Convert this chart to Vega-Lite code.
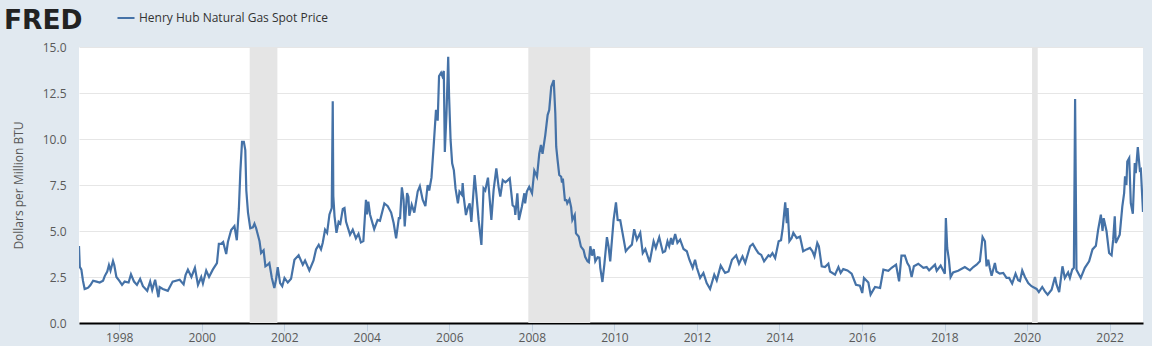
{
"$schema":"https://vega.github.io/schema/vega-lite/v6.json",
"width":1064,"height":276,
"autosize":{"type":"none"},
"padding":{"left":79,"top":47,"right":9,"bottom":23},
"background":"#e1e9f0",
"view":{"fill":"#ffffff","stroke":null},
"title":{"text":"FRED","anchor":"start","frame":"group","dx":-75,"dy":38,"offset":12,"font":"DejaVu Sans","fontWeight":"bold","fontSize":26.5,"color":"#222222"},
"datasets":{
"recessions":[{"start":"2001-03-01","end":"2001-11-01"},{"start":"2007-12-01","end":"2009-06-01"},{"start":"2020-02-15","end":"2020-04-05"}],
"spot":[
{"date":"1997-01-10","value":4.18},{"date":"1997-01-17","value":3.05},{"date":"1997-01-31","value":2.9},{"date":"1997-02-14","value":2.3},{"date":"1997-03-01","value":1.85},{"date":"1997-03-15","value":1.88},{"date":"1997-04-01","value":1.92},{"date":"1997-04-20","value":2.05},{"date":"1997-05-15","value":2.3},{"date":"1997-06-14","value":2.25},{"date":"1997-07-12","value":2.2},{"date":"1997-08-11","value":2.3},{"date":"1997-08-26","value":2.55},{"date":"1997-09-17","value":2.8},{"date":"1997-10-02","value":3.15},{"date":"1997-10-16","value":2.85},{"date":"1997-11-07","value":3.37},{"date":"1997-11-18","value":3.15},{"date":"1997-12-07","value":2.5},{"date":"1998-01-01","value":2.3},{"date":"1998-01-26","value":2.07},{"date":"1998-02-18","value":2.25},{"date":"1998-03-25","value":2.2},{"date":"1998-04-15","value":2.65},{"date":"1998-05-12","value":2.25},{"date":"1998-06-07","value":2.07},{"date":"1998-07-05","value":2.4},{"date":"1998-07-30","value":2.0},{"date":"1998-09-06","value":1.75},{"date":"1998-10-02","value":2.25},{"date":"1998-10-20","value":1.8},{"date":"1998-11-15","value":2.35},{"date":"1998-12-14","value":1.4},{"date":"1998-12-25","value":1.95},{"date":"1999-01-22","value":1.85},{"date":"1999-03-07","value":1.75},{"date":"1999-04-19","value":2.25},{"date":"1999-06-20","value":2.35},{"date":"1999-07-25","value":2.1},{"date":"1999-08-11","value":2.6},{"date":"1999-09-01","value":2.9},{"date":"1999-10-02","value":2.5},{"date":"1999-11-02","value":3.0},{"date":"1999-11-29","value":2.07},{"date":"1999-12-28","value":2.5},{"date":"2000-01-12","value":2.15},{"date":"2000-02-10","value":2.85},{"date":"2000-03-06","value":2.5},{"date":"2000-04-08","value":2.9},{"date":"2000-05-15","value":3.25},{"date":"2000-06-01","value":4.3},{"date":"2000-06-21","value":4.3},{"date":"2000-07-09","value":4.4},{"date":"2000-08-05","value":3.75},{"date":"2000-08-20","value":4.4},{"date":"2000-09-18","value":5.05},{"date":"2000-10-17","value":5.27},{"date":"2000-11-07","value":4.5},{"date":"2000-11-25","value":6.2},{"date":"2000-12-08","value":8.2},{"date":"2000-12-23","value":9.85},{"date":"2001-01-08","value":9.85},{"date":"2001-01-21","value":9.4},{"date":"2001-01-30","value":7.2},{"date":"2001-02-14","value":6.0},{"date":"2001-03-06","value":5.15},{"date":"2001-03-29","value":5.2},{"date":"2001-04-12","value":5.4},{"date":"2001-04-27","value":5.15},{"date":"2001-05-27","value":4.44},{"date":"2001-06-10","value":3.8},{"date":"2001-07-02","value":3.95},{"date":"2001-07-18","value":3.08},{"date":"2001-08-08","value":3.17},{"date":"2001-08-22","value":3.26},{"date":"2001-09-13","value":2.45},{"date":"2001-10-05","value":1.9},{"date":"2001-10-20","value":2.35},{"date":"2001-11-04","value":3.04},{"date":"2001-11-25","value":2.17},{"date":"2001-12-14","value":2.0},{"date":"2002-01-03","value":2.45},{"date":"2002-02-01","value":2.2},{"date":"2002-03-02","value":2.4},{"date":"2002-04-01","value":3.44},{"date":"2002-05-08","value":3.68},{"date":"2002-06-14","value":3.17},{"date":"2002-07-04","value":3.4},{"date":"2002-08-11","value":2.86},{"date":"2002-09-17","value":3.4},{"date":"2002-10-09","value":4.0},{"date":"2002-11-02","value":4.25},{"date":"2002-11-22","value":4.0},{"date":"2002-12-07","value":4.35},{"date":"2002-12-28","value":5.07},{"date":"2003-01-15","value":4.9},{"date":"2003-02-05","value":5.9},{"date":"2003-02-25","value":6.25},{"date":"2003-03-06","value":12.05},{"date":"2003-03-11","value":6.9},{"date":"2003-03-22","value":5.8},{"date":"2003-04-08","value":4.9},{"date":"2003-04-27","value":5.5},{"date":"2003-05-12","value":5.4},{"date":"2003-06-03","value":6.2},{"date":"2003-06-18","value":6.25},{"date":"2003-07-02","value":5.5},{"date":"2003-08-06","value":4.8},{"date":"2003-08-30","value":5.07},{"date":"2003-09-27","value":4.6},{"date":"2003-10-20","value":4.85},{"date":"2003-11-10","value":4.38},{"date":"2003-12-02","value":4.45},{"date":"2003-12-25","value":6.7},{"date":"2004-01-03","value":5.9},{"date":"2004-01-15","value":6.6},{"date":"2004-01-30","value":5.9},{"date":"2004-03-07","value":5.1},{"date":"2004-04-06","value":5.6},{"date":"2004-04-27","value":5.55},{"date":"2004-06-05","value":6.5},{"date":"2004-07-05","value":6.35},{"date":"2004-08-04","value":6.0},{"date":"2004-08-26","value":5.43},{"date":"2004-09-17","value":4.6},{"date":"2004-10-11","value":5.7},{"date":"2004-10-22","value":5.7},{"date":"2004-11-07","value":7.37},{"date":"2004-11-22","value":6.7},{"date":"2004-12-02","value":5.25},{"date":"2004-12-23","value":7.06},{"date":"2005-01-04","value":6.85},{"date":"2005-01-12","value":5.83},{"date":"2005-02-02","value":6.43},{"date":"2005-02-25","value":6.0},{"date":"2005-03-27","value":7.15},{"date":"2005-04-15","value":7.43},{"date":"2005-05-10","value":6.7},{"date":"2005-06-03","value":6.35},{"date":"2005-06-23","value":7.5},{"date":"2005-07-07","value":7.2},{"date":"2005-07-27","value":7.9},{"date":"2005-08-15","value":9.6},{"date":"2005-09-05","value":11.58},{"date":"2005-09-20","value":11.0},{"date":"2005-10-02","value":13.42},{"date":"2005-10-20","value":13.6},{"date":"2005-10-31","value":13.42},{"date":"2005-11-13","value":13.7},{"date":"2005-11-22","value":9.3},{"date":"2005-12-07","value":11.4},{"date":"2005-12-22","value":14.47},{"date":"2005-12-30","value":12.3},{"date":"2006-01-12","value":9.95},{"date":"2006-01-26","value":8.68},{"date":"2006-02-10","value":8.3},{"date":"2006-02-25","value":7.3},{"date":"2006-03-18","value":6.5},{"date":"2006-04-01","value":7.14},{"date":"2006-04-23","value":6.96},{"date":"2006-04-29","value":7.6},{"date":"2006-05-08","value":6.87},{"date":"2006-05-28","value":5.87},{"date":"2006-06-12","value":6.23},{"date":"2006-06-30","value":6.5},{"date":"2006-07-15","value":5.5},{"date":"2006-08-13","value":8.04},{"date":"2006-08-28","value":7.05},{"date":"2006-09-17","value":5.6},{"date":"2006-10-12","value":4.24},{"date":"2006-10-31","value":7.32},{"date":"2006-11-15","value":7.2},{"date":"2006-12-09","value":7.9},{"date":"2007-01-08","value":5.6},{"date":"2007-01-28","value":7.23},{"date":"2007-02-21","value":8.4},{"date":"2007-03-13","value":7.4},{"date":"2007-03-28","value":6.87},{"date":"2007-04-19","value":7.77},{"date":"2007-05-12","value":7.65},{"date":"2007-06-02","value":7.75},{"date":"2007-06-20","value":7.86},{"date":"2007-07-15","value":6.4},{"date":"2007-08-02","value":6.3},{"date":"2007-08-08","value":5.87},{"date":"2007-08-26","value":7.05},{"date":"2007-09-09","value":5.6},{"date":"2007-10-05","value":6.32},{"date":"2007-10-27","value":7.05},{"date":"2007-11-03","value":6.5},{"date":"2007-11-18","value":7.14},{"date":"2007-12-09","value":7.4},{"date":"2008-01-03","value":7.05},{"date":"2008-01-23","value":8.28},{"date":"2008-02-16","value":7.95},{"date":"2008-03-07","value":9.2},{"date":"2008-03-22","value":9.67},{"date":"2008-04-05","value":9.2},{"date":"2008-04-29","value":10.2},{"date":"2008-05-20","value":11.3},{"date":"2008-06-03","value":11.57},{"date":"2008-06-21","value":12.84},{"date":"2008-07-13","value":13.2},{"date":"2008-07-27","value":11.4},{"date":"2008-08-04","value":9.58},{"date":"2008-08-16","value":8.86},{"date":"2008-08-31","value":8.04},{"date":"2008-09-17","value":7.95},{"date":"2008-09-24","value":7.63},{"date":"2008-10-02","value":7.85},{"date":"2008-10-20","value":6.68},{"date":"2008-11-02","value":6.68},{"date":"2008-11-10","value":6.5},{"date":"2008-11-29","value":6.72},{"date":"2008-12-14","value":6.3},{"date":"2008-12-25","value":5.6},{"date":"2009-01-15","value":5.87},{"date":"2009-01-26","value":4.87},{"date":"2009-02-19","value":4.7},{"date":"2009-03-11","value":4.15},{"date":"2009-04-03","value":3.97},{"date":"2009-04-17","value":3.6},{"date":"2009-05-08","value":3.35},{"date":"2009-05-20","value":3.3},{"date":"2009-06-02","value":4.17},{"date":"2009-06-17","value":3.66},{"date":"2009-07-02","value":4.02},{"date":"2009-07-16","value":3.35},{"date":"2009-08-06","value":3.57},{"date":"2009-08-22","value":3.55},{"date":"2009-08-29","value":3.0},{"date":"2009-09-17","value":2.23},{"date":"2009-10-04","value":3.17},{"date":"2009-10-27","value":4.67},{"date":"2009-11-10","value":4.17},{"date":"2009-11-25","value":3.35},{"date":"2009-12-25","value":5.6},{"date":"2010-01-15","value":6.56},{"date":"2010-01-30","value":5.6},{"date":"2010-02-22","value":5.58},{"date":"2010-03-14","value":4.9},{"date":"2010-04-12","value":3.9},{"date":"2010-05-06","value":4.08},{"date":"2010-06-05","value":4.26},{"date":"2010-06-25","value":5.1},{"date":"2010-07-19","value":4.53},{"date":"2010-08-18","value":4.9},{"date":"2010-09-09","value":3.8},{"date":"2010-10-02","value":4.02},{"date":"2010-11-09","value":3.3},{"date":"2010-12-14","value":4.44},{"date":"2011-01-03","value":4.08},{"date":"2011-02-02","value":4.66},{"date":"2011-03-06","value":3.84},{"date":"2011-03-26","value":3.9},{"date":"2011-04-16","value":4.44},{"date":"2011-05-01","value":4.17},{"date":"2011-05-18","value":4.62},{"date":"2011-05-30","value":4.26},{"date":"2011-06-23","value":4.84},{"date":"2011-07-13","value":4.35},{"date":"2011-08-06","value":4.53},{"date":"2011-09-05","value":4.02},{"date":"2011-10-04","value":3.9},{"date":"2011-10-27","value":3.44},{"date":"2011-11-25","value":3.0},{"date":"2011-12-16","value":3.44},{"date":"2012-01-01","value":3.0},{"date":"2012-01-30","value":2.45},{"date":"2012-02-28","value":2.72},{"date":"2012-03-28","value":2.17},{"date":"2012-04-27","value":1.85},{"date":"2012-06-03","value":2.63},{"date":"2012-06-25","value":2.32},{"date":"2012-07-30","value":3.12},{"date":"2012-09-07","value":2.72},{"date":"2012-10-07","value":2.8},{"date":"2012-11-07","value":3.44},{"date":"2012-12-14","value":3.68},{"date":"2013-01-08","value":3.22},{"date":"2013-02-08","value":3.62},{"date":"2013-03-04","value":3.26},{"date":"2013-04-16","value":4.17},{"date":"2013-05-10","value":4.3},{"date":"2013-06-07","value":4.0},{"date":"2013-06-29","value":3.8},{"date":"2013-07-24","value":3.7},{"date":"2013-08-18","value":3.35},{"date":"2013-09-26","value":3.68},{"date":"2013-10-11","value":3.62},{"date":"2013-10-31","value":3.8},{"date":"2013-11-24","value":3.53},{"date":"2013-12-25","value":4.44},{"date":"2014-01-15","value":4.5},{"date":"2014-01-30","value":5.16},{"date":"2014-02-21","value":6.56},{"date":"2014-03-07","value":5.43},{"date":"2014-03-14","value":6.25},{"date":"2014-03-30","value":4.44},{"date":"2014-04-19","value":4.62},{"date":"2014-05-04","value":4.9},{"date":"2014-06-03","value":4.62},{"date":"2014-07-02","value":4.7},{"date":"2014-07-30","value":3.9},{"date":"2014-08-29","value":4.0},{"date":"2014-09-28","value":4.08},{"date":"2014-10-20","value":3.9},{"date":"2014-11-07","value":3.62},{"date":"2014-12-02","value":4.35},{"date":"2014-12-16","value":4.17},{"date":"2015-01-10","value":3.08},{"date":"2015-02-08","value":3.04},{"date":"2015-03-10","value":3.22},{"date":"2015-03-25","value":2.8},{"date":"2015-05-08","value":2.63},{"date":"2015-06-07","value":3.04},{"date":"2015-06-27","value":2.72},{"date":"2015-07-20","value":2.93},{"date":"2015-08-26","value":2.86},{"date":"2015-10-02","value":2.68},{"date":"2015-11-09","value":2.08},{"date":"2015-12-14","value":2.03},{"date":"2016-01-04","value":1.63},{"date":"2016-01-19","value":2.45},{"date":"2016-02-27","value":2.2},{"date":"2016-03-18","value":1.54},{"date":"2016-04-26","value":1.96},{"date":"2016-06-10","value":1.9},{"date":"2016-07-09","value":2.9},{"date":"2016-08-22","value":2.84},{"date":"2016-09-20","value":3.0},{"date":"2016-10-29","value":3.17},{"date":"2016-11-25","value":2.26},{"date":"2016-12-16","value":3.66},{"date":"2017-01-15","value":3.66},{"date":"2017-02-06","value":3.26},{"date":"2017-02-24","value":3.08},{"date":"2017-03-16","value":2.5},{"date":"2017-04-05","value":3.08},{"date":"2017-05-14","value":3.22},{"date":"2017-06-28","value":3.0},{"date":"2017-07-27","value":3.04},{"date":"2017-08-18","value":2.86},{"date":"2017-10-09","value":3.17},{"date":"2017-10-24","value":2.84},{"date":"2017-11-28","value":3.12},{"date":"2018-01-04","value":2.68},{"date":"2018-01-13","value":5.7},{"date":"2018-01-25","value":4.08},{"date":"2018-02-09","value":3.44},{"date":"2018-02-24","value":2.5},{"date":"2018-03-18","value":2.75},{"date":"2018-05-02","value":2.84},{"date":"2018-06-30","value":3.04},{"date":"2018-08-14","value":2.86},{"date":"2018-09-13","value":3.04},{"date":"2018-10-12","value":3.17},{"date":"2018-11-10","value":3.35},{"date":"2018-12-04","value":4.67},{"date":"2018-12-25","value":4.44},{"date":"2019-01-08","value":3.08},{"date":"2019-01-23","value":3.44},{"date":"2019-02-06","value":2.99},{"date":"2019-02-22","value":2.57},{"date":"2019-03-23","value":3.26},{"date":"2019-04-06","value":2.8},{"date":"2019-05-05","value":2.68},{"date":"2019-06-05","value":2.72},{"date":"2019-07-04","value":2.45},{"date":"2019-07-27","value":2.45},{"date":"2019-08-23","value":2.14},{"date":"2019-09-22","value":2.68},{"date":"2019-10-15","value":2.32},{"date":"2019-10-31","value":2.27},{"date":"2019-11-20","value":2.86},{"date":"2019-12-14","value":2.5},{"date":"2020-01-12","value":2.17},{"date":"2020-02-10","value":2.0},{"date":"2020-03-26","value":1.85},{"date":"2020-04-15","value":1.68},{"date":"2020-05-15","value":1.96},{"date":"2020-06-08","value":1.72},{"date":"2020-07-02","value":1.54},{"date":"2020-08-06","value":1.81},{"date":"2020-09-05","value":2.5},{"date":"2020-09-19","value":2.08},{"date":"2020-10-12","value":1.68},{"date":"2020-11-10","value":3.08},{"date":"2020-12-01","value":2.45},{"date":"2020-12-30","value":2.75},{"date":"2021-01-15","value":2.45},{"date":"2021-02-04","value":2.9},{"date":"2021-02-19","value":3.0},{"date":"2021-03-02","value":12.17},{"date":"2021-03-14","value":2.9},{"date":"2021-04-21","value":2.45},{"date":"2021-05-27","value":3.0},{"date":"2021-07-04","value":3.35},{"date":"2021-08-03","value":4.0},{"date":"2021-09-02","value":4.2},{"date":"2021-09-22","value":5.07},{"date":"2021-10-16","value":5.89},{"date":"2021-10-31","value":5.0},{"date":"2021-11-10","value":5.7},{"date":"2021-12-05","value":5.0},{"date":"2021-12-28","value":3.8},{"date":"2022-01-19","value":3.68},{"date":"2022-02-02","value":4.53},{"date":"2022-02-16","value":5.8},{"date":"2022-02-25","value":4.35},{"date":"2022-04-01","value":4.8},{"date":"2022-04-24","value":6.34},{"date":"2022-05-10","value":7.06},{"date":"2022-05-18","value":7.97},{"date":"2022-05-30","value":7.5},{"date":"2022-06-07","value":8.78},{"date":"2022-06-24","value":8.97},{"date":"2022-07-08","value":6.52},{"date":"2022-07-26","value":5.94},{"date":"2022-08-12","value":8.7},{"date":"2022-08-21","value":8.15},{"date":"2022-09-08","value":9.56},{"date":"2022-09-26","value":8.3},{"date":"2022-10-05","value":8.35},{"date":"2022-10-24","value":6.03}
]},
"layer":[
{"data":{"name":"recessions"},"mark":{"type":"rect","color":"#e5e5e5"},
"encoding":{"x":{"field":"start","type":"temporal","scale":{"domain":["1997-01-10","2022-10-24"]},
"axis":{"title":null,"format":"%Y","tickCount":{"interval":"year","step":2},"grid":false,"domainColor":"#000000","domainWidth":2,"tickColor":"#c0d0e0","tickSize":8,"tickWidth":1,"labelFont":"Open Sans","labelFontSize":12,"labelColor":"#595959","labelPadding":1,"labelOverlap":false}},
"x2":{"field":"end"}}},
{"data":{"name":"spot"},"mark":{"type":"line","strokeWidth":2.2,"clip":true,"interpolate":"linear"},
"encoding":{"x":{"field":"date","type":"temporal"},
"y":{"field":"value","type":"quantitative","scale":{"domain":[0,15],"nice":false},
"axis":{"title":"Dollars per Million BTU","titleFont":"Open Sans","titleFontSize":12,"titleFontWeight":"normal","titleColor":"#595959","titlePadding":17,"values":[0,2.5,5,7.5,10,12.5,15],"format":".1f","domain":false,"ticks":false,"grid":true,"gridColor":"#e6e6e6","gridWidth":1,"labelFont":"Open Sans","labelFontSize":12,"labelColor":"#595959","labelPadding":13}},
"color":{"datum":"Henry Hub Natural Gas Spot Price","scale":{"range":["#4572a7"]},
"legend":{"title":null,"orient":"none","legendX":37,"legendY":-39,"symbolType":"stroke","symbolSize":290,"symbolStrokeWidth":2,"labelFont":"Open Sans","labelFontSize":12,"labelColor":"#333333","labelOffset":3,"labelLimit":400,"padding":0}}}}
]
}
